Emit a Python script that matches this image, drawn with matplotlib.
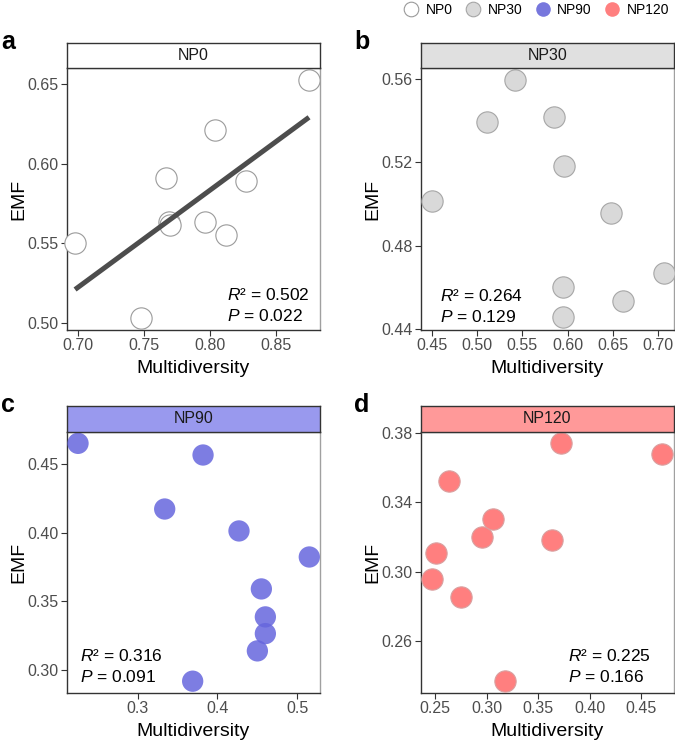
import numpy as np
import matplotlib
matplotlib.use("Agg")
import matplotlib.pyplot as plt
from matplotlib.ticker import FormatStrFormatter
from matplotlib.lines import Line2D

plt.rcParams['font.family'] = ['Liberation Sans', 'DejaVu Sans']
plt.rcParams['mathtext.fontset'] = 'custom'
plt.rcParams['mathtext.it'] = 'Liberation Sans:italic'
plt.rcParams['mathtext.rm'] = 'Liberation Sans'

# ---- data ----
np0_x = [0.698, 0.748, 0.767, 0.769, 0.770, 0.796, 0.804, 0.812, 0.827, 0.875]
np0_y = [0.550, 0.503, 0.591, 0.5635, 0.5615, 0.5635, 0.621, 0.555, 0.589, 0.6525]

np30_x = [0.450, 0.511, 0.542, 0.585, 0.596, 0.648, 0.595, 0.595, 0.661, 0.706]
np30_y = [0.5013, 0.5391, 0.5594, 0.5416, 0.5182, 0.4956, 0.4601, 0.4457, 0.4535, 0.4672]

np90_x = [0.2255, 0.382, 0.334, 0.427, 0.515, 0.455, 0.460, 0.460, 0.450, 0.369]
np90_y = [0.4653, 0.4568, 0.4174, 0.4014, 0.3824, 0.3591, 0.3387, 0.3265, 0.3139, 0.2918]

np120_x = [0.247, 0.251, 0.264, 0.275, 0.296, 0.306, 0.318, 0.363, 0.372, 0.470]
np120_y = [0.2957, 0.3107, 0.3522, 0.2857, 0.3201, 0.3305, 0.2374, 0.3185, 0.3739, 0.3679]

groups = ['NP0', 'NP30', 'NP90', 'NP120']
stats_r2 = ['0.502', '0.264', '0.316', '0.225']
stats_p = ['0.022', '0.129', '0.091', '0.166']

W, H = 675, 743
fig = plt.figure(figsize=(W / 100, H / 100), dpi=100)

def fx(x):
    return x / W

def fy(y):
    return 1 - y / H

def make_axes(l, r, t, b):
    return fig.add_axes([fx(l), fy(b), fx(r) - fx(l), (b - t) / H])

panels = [
    dict(x=np0_x, y=np0_y, l=67, r=320, st=43, t=68, b=330, xlim=(0.6919, 0.8833), ylim=(0.4954, 0.660),
         xt=[0.70, 0.75, 0.80, 0.85], yt=[0.50, 0.55, 0.60, 0.65], xf='%.2f', yf='%.2f',
         face='white', edge='#9a9a9a', alpha=1.0, strip='white', label='a',
         tx=227, ty=(295, 316), fit=True),
    dict(x=np30_x, y=np30_y, l=421, r=674, st=43, t=68, b=330, xlim=(0.4382, 0.7173), ylim=(0.4397, 0.5651),
         xt=[0.45, 0.50, 0.55, 0.60, 0.65, 0.70], yt=[0.44, 0.48, 0.52, 0.56], xf='%.2f', yf='%.2f',
         face='#d9d9d9', edge='#a6a6a6', alpha=1.0, strip='#e0e0e0', label='b',
         tx=440, ty=(296, 317), fit=False),
    dict(x=np90_x, y=np90_y, l=67, r=320, st=405.7, t=431.7, b=692.7, xlim=(0.2117, 0.5284), ylim=(0.2834, 0.4738),
         xt=[0.3, 0.4, 0.5], yt=[0.30, 0.35, 0.40, 0.45], xf='%.1f', yf='%.2f',
         face='#6666dd', edge='none', alpha=0.85, strip='#9999ee', label='c',
         tx=80, ty=(656, 677), fit=False),
    dict(x=np120_x, y=np120_y, l=421, r=674, st=405.7, t=431.7, b=692.7, xlim=(0.2365, 0.4815), ylim=(0.2304, 0.3806),
         xt=[0.25, 0.30, 0.35, 0.40, 0.45], yt=[0.26, 0.30, 0.34, 0.38], xf='%.2f', yf='%.2f',
         face='#ff7f7f', edge='#d9a0a0', alpha=1.0, strip='#ff9999', label='d',
         tx=568, ty=(656, 677), fit=False),
]

for g, p, r2, pv in zip(groups, panels, stats_r2, stats_p):
    ax = make_axes(p['l'], p['r'], p['t'], p['b'])
    ax.scatter(p['x'], p['y'], s=235, facecolor=p['face'], edgecolor=p['edge'],
               linewidth=0.8, alpha=p['alpha'], zorder=3, clip_on=False)
    if p['fit']:
        xs = np.array(p['x'])
        coef = np.polyfit(xs, np.array(p['y']), 1)
        xx = np.array([xs.min(), xs.max()])
        ax.plot(xx, np.polyval(coef, xx), color='#4d4d4d', lw=3.6, solid_capstyle='butt', zorder=4)
    ax.set_xlim(*p['xlim'])
    ax.set_ylim(*p['ylim'])
    ax.set_xticks(p['xt'])
    ax.set_yticks(p['yt'])
    ax.xaxis.set_major_formatter(FormatStrFormatter(p['xf']))
    ax.yaxis.set_major_formatter(FormatStrFormatter(p['yf']))
    ax.tick_params(axis='both', direction='out', length=4, width=0.8, color='#333333',
                   labelcolor='#4d4d4d', labelsize=11.5, pad=2)
    for s in ['left', 'bottom']:
        ax.spines[s].set_color('#333333')
        ax.spines[s].set_linewidth(1.0)
    for s in ['right', 'top']:
        ax.spines[s].set_color('#a0a0a0')
        ax.spines[s].set_linewidth(1.0)
    ax.set_xlabel('Multidiversity', fontsize=14, color='black', labelpad=5)
    ax.set_ylabel('EMF', fontsize=14, color='black', labelpad=0)

    # strip
    sax = make_axes(p['l'], p['r'], p['st'], p['t'])
    sax.set_facecolor(p['strip'])
    sax.set_xticks([])
    sax.set_yticks([])
    for s in sax.spines.values():
        s.set_color('#333333')
        s.set_linewidth(1.0)
    sax.text(0.5, 0.5, g, ha='center', va='center', fontsize=11.5, color='#1a1a1a',
             transform=sax.transAxes)

    # stats
    fig.text(fx(p['tx']), fy(p['ty'][0]), r'$R$² = ' + r2, ha='left', va='center', fontsize=12.5)
    fig.text(fx(p['tx']), fy(p['ty'][1]), r'$P$ = ' + pv, ha='left', va='center', fontsize=12.5)

    # panel label
    lx = 8 if p['l'] < 200 else 362
    fig.text(fx(lx), fy(p['st'] - 1), p['label'], ha='center', va='center',
             fontsize=18, fontweight='bold')

# legend
handles = [
    Line2D([], [], marker='o', linestyle='none', markersize=10.5, markerfacecolor='white',
           markeredgecolor='#9a9a9a', markeredgewidth=0.8),
    Line2D([], [], marker='o', linestyle='none', markersize=10.5, markerfacecolor='#d9d9d9',
           markeredgecolor='#a6a6a6', markeredgewidth=0.8),
    Line2D([], [], marker='o', linestyle='none', markersize=10.5, markerfacecolor='#7777dd',
           markeredgecolor='none'),
    Line2D([], [], marker='o', linestyle='none', markersize=10.5, markerfacecolor='#ff7f7f',
           markeredgecolor='none'),
]
fig.legend(handles, groups, loc='center right', bbox_to_anchor=(fx(669), fy(10)), ncol=4,
           frameon=False, fontsize=10, handletextpad=0.45, columnspacing=0.85,
           handlelength=1.2, borderaxespad=0, borderpad=0)

fig.savefig('out.png', dpi=100)
